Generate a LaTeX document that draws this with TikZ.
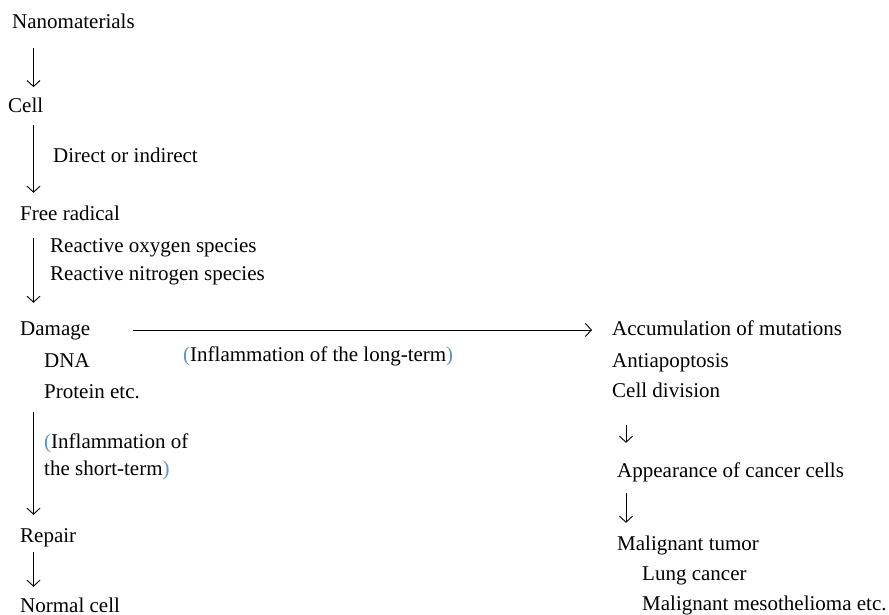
\documentclass[tikz,border=0pt]{standalone}
\usepackage{fontspec}
\setmainfont{Liberation Serif}
\usepackage{xcolor}
\usepackage{tikz}
\usetikzlibrary{arrows.meta,positioning}
\definecolor{parblue}{RGB}{96, 146, 204}
\tikzstyle{txt} = [draw=none, fill=none, anchor=base west, inner sep=0pt, text height=15pt, text depth=5pt, font=\fontsize{21}{25}\selectfont]
\tikzstyle{link} = [draw, line width=0.9pt, -{Straight Barb[length=6pt,width=13pt]}]
\newcommand{\bpar}[1]{\textcolor{parblue}{#1}}

\begin{document}
\begin{tikzpicture}[x=1pt, y=-1pt]
\useasboundingbox (0,0) rectangle (889,615);

% arrow columns
\coordinate (lx) at (33.5,0);
\coordinate (rx) at (626,0);

% left column =============================
\node[txt] (nano) at (12,29) {Nanomaterials};
\node[txt] (cell) at (8,113) {Cell};
\node[txt] (direct) at (53,163) {Direct or indirect};
\node[txt] (free) at (20,220) {Free radical};
\node[txt] (ros) at (50,252) {Reactive oxygen species};
\node[txt] (rns) at (50,280) {Reactive nitrogen species};
\node[txt] (dmg) at (20,335) {Damage};
\node[txt] (dna) at (44,367) {DNA};
\node[txt] (prot) at (44,398) {Protein etc.};

% short-term
\node[txt] (short1) at (44,448) {\bpar{(}Inflammation of};
\node[txt] (short2) at (44,475) {the short-term\bpar{)}};
\node[txt] (repair) at (20,542) {Repair};
\node[txt] (normal) at (20,612) {Normal cell};

% long-term
\node[txt] (long) at (183,361) {\bpar{(}Inflammation of the long-term\bpar{)}};

% right column =============================
\node[txt] (acc) at (612,335) {Accumulation of mutations};
\node[txt] (anti) at (612,367) {Antiapoptosis};
\node[txt] (div) at (612,397) {Cell division};
\node[txt] (appear) at (617,477) {Appearance of cancer cells};
\node[txt] (tumor) at (617,550) {Malignant tumor};
\node[txt] (lung) at (642,580) {Lung cancer};
\node[txt] (meso) at (642,610) {Malignant mesothelioma etc.};

%edges
\path[link] ([yshift=-14pt]lx |- nano.south) -- ([yshift=10.7pt]lx |- cell.north);
\path[link] ([yshift=-7.3pt]lx |- cell.south) -- ([yshift=12pt]lx |- free.north);
\path[link] ([yshift=-13pt]lx |- free.south) -- ([yshift=17pt]lx |- dmg.north);
\path[link] ([yshift=-9pt]lx |- prot.south) -- ([yshift=12pt]lx |- repair.north);
\path[link] ([yshift=-5pt]lx |- repair.south) -- ([yshift=10pt]lx |- normal.north);
\path[link] ([xshift=43pt]dmg.east) -- ([xshift=-20pt]acc.west);

%edges right
\path[link] ([yshift=-23pt]rx |- div.south) -- ([yshift=19pt]rx |- appear.north);
\path[link] ([yshift=-11pt]rx |- appear.south) -- ([yshift=12pt]rx |- tumor.north);

\end{tikzpicture}
\end{document}
